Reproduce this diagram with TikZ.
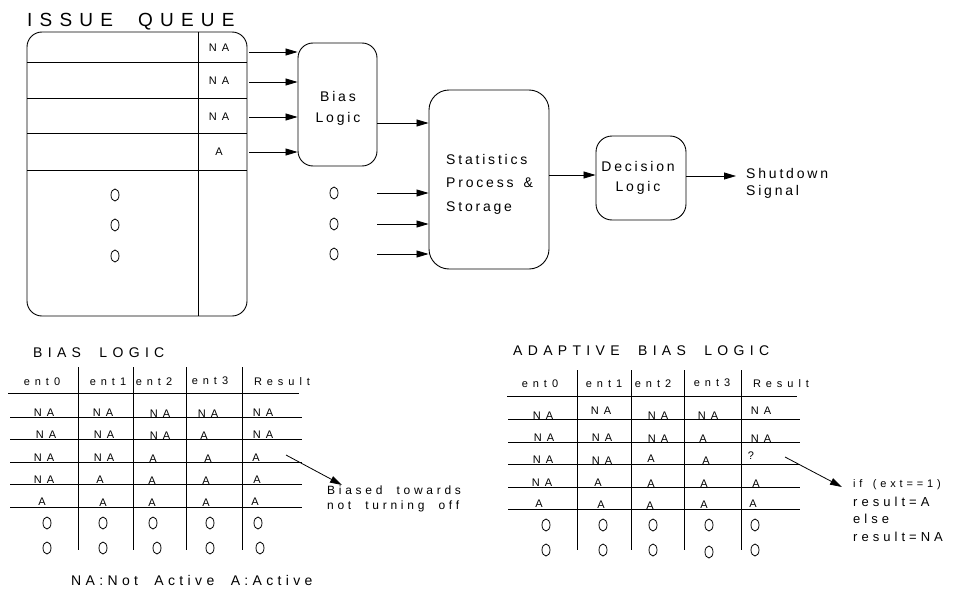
\documentclass[tikz,border=0pt]{standalone}
\usepackage{fontspec}
\setmainfont{Liberation Sans}
\newfontfamily\fA[LetterSpace=20,WordSpace=1.5]{Liberation Sans}
\newfontfamily\fB[LetterSpace=38,WordSpace=2.5]{Liberation Sans}
\newfontfamily\fC[LetterSpace=38,WordSpace=2]{Liberation Sans}
\newfontfamily\fD[LetterSpace=45]{Liberation Sans}
\newfontfamily\fE[LetterSpace=31,WordSpace=2]{Liberation Sans}
\newfontfamily\fF[LetterSpace=35,WordSpace=1.5]{Liberation Sans}
\usetikzlibrary{arrows.meta,shapes.geometric}
\tikzset{
  arr/.style={draw, line width=0.8pt, -{Triangle[length=12pt,width=7pt]}},
  box/.style={draw, line width=0.9pt, rounded corners=#1, inner sep=0pt},
  tl/.style={line width=0.8pt},
  ttl/.style={inner sep=0pt, anchor=base west, font=\fontsize{14}{16}\selectfont\fC},
  cell/.style={inner sep=0pt, anchor=base, font=\fontsize{11}{12}\selectfont\fD},
  qt/.style={inner sep=0pt, font=\fontsize{11}{12}\selectfont\fD},
  btxt/.style={inner sep=0pt, font=\fontsize{14}{#1}\selectfont\fA},
  oo/.style={ellipse, draw, line width=0.8pt, minimum width=8pt, minimum height=12pt, inner sep=0pt},
}
\begin{document}
\begin{tikzpicture}[x=1pt,y=-1pt]
\useasboundingbox (0,0) rectangle (963,602);
% ---------- top diagram ----------
\node[inner sep=0pt, anchor=base west, font=\fontsize{19}{22}\selectfont\fB] (tq) at (27,27) {ISSUE QUEUE};
\node[box=15, minimum width=220pt, minimum height=284pt] (queue) at (137,174) {};
\draw[tl] (198,32) -- (198,316);
\foreach \yy in {62,98,133,170} \draw[tl] (27,\yy) -- (247,\yy);
\node[qt] (q1) at (219,48) {NA};
\node[qt] (q2) at (219,81) {NA};
\node[qt] (q3) at (219,117) {NA};
\node[qt] (q4) at (219,152) {A};
\node[oo] (qo1) at (115,195) {};
\node[oo] (qo2) at (115,225) {};
\node[oo] (qo3) at (115,256) {};

\node[box=15, minimum width=79pt, minimum height=123pt] (bias) at (337.5,104.5) {};
\node[btxt=21, align=center] (biast) at (338,108) {Bias\\Logic};

\draw[arr, shorten <=2pt] (queue.east |- 0,52) -- (bias.west |- 0,52);
\draw[arr, shorten <=2pt] (queue.east |- 0,82) -- (bias.west |- 0,82);
\draw[arr, shorten <=2pt] (queue.east |- 0,117) -- (bias.west |- 0,117);
\draw[arr, shorten <=2pt] (queue.east |- 0,152) -- (bias.west |- 0,152);

\node[box=20, minimum width=120pt, minimum height=179pt] (stats) at (489,179.5) {};
\node[btxt=23.5, align=left, anchor=west] (statst) at (446,184) {Statistics\\Process \&\\Storage};
\draw[arr] (bias.east |- 0,123) -- (stats.west |- 0,123);

\node[oo] (so1) at (334,193) {};
\node[oo] (so2) at (334,224) {};
\node[oo] (so3) at (334,254) {};
\coordinate (s1) at (377,193);
\coordinate (s2) at (377,224);
\coordinate (s3) at (377,254);
\draw[arr] (s1) -- (stats.west |- s1);
\draw[arr] (s2) -- (stats.west |- s2);
\draw[arr] (s3) -- (stats.west |- s3);

\node[box=16, minimum width=90pt, minimum height=84pt] (dec) at (641,178) {};
\node[btxt=20, align=center] (dect) at (638,178) {Decision\\Logic};
\draw[arr] (stats.east |- 0,175) -- (dec.west |- 0,175);
\coordinate (sdend) at (736,176);
\draw[arr] (dec.east |- sdend) -- (sdend);
\node[btxt=17, align=left, anchor=west] (sd) at (746,183) {Shutdown\\Signal};

% ---------- bias logic table ----------
\node[ttl] (blt) at (33,357) {BIAS LOGIC};
\foreach \xx in {78,133,186,242} \draw[tl] (\xx,367) -- (\xx,550);
\draw[tl] (8,393) -- (299,393);
\foreach \yy in {417,439,462,484,507} \draw[tl] (10,\yy) -- (302,\yy);
\node[cell] (lh0) at (42,385) {ent0};
\node[cell] (lh1) at (108,385) {ent1};
\node[cell] (lh2) at (154,385) {ent2};
\node[cell] (lh3) at (210,384) {ent3};
\node[cell] (lh4) at (282,385) {Result};
% rows
\node[cell] (l11) at (44,416.5) {NA};
\node[cell] (l12) at (103,416.5) {NA};
\node[cell] (l13) at (160,417) {NA};
\node[cell] (l14) at (208,417) {NA};
\node[cell] (l15) at (263,416.5) {NA};
\node[cell] (l21) at (46,438.5) {NA};
\node[cell] (l22) at (104,438.5) {NA};
\node[cell] (l23) at (160,439) {NA};
\node[cell] (l24) at (204,439) {A};
\node[cell] (l25) at (263,438.5) {NA};
\node[cell] (l31) at (44,461.5) {NA};
\node[cell] (l32) at (104,461.5) {NA};
\node[cell] (l33) at (153,462) {A};
\node[cell] (l34) at (208,462) {A};
\node[cell] (l35) at (256,461.5) {A};
\node[cell] (l41) at (44,483.5) {NA};
\node[cell] (l42) at (100,483.5) {A};
\node[cell] (l43) at (152,484) {A};
\node[cell] (l44) at (206,484) {A};
\node[cell] (l45) at (257,483.5) {A};
\node[cell] (l51) at (42,505.5) {A};
\node[cell] (l52) at (103,506) {A};
\node[cell] (l53) at (152,506.5) {A};
\node[cell] (l54) at (206,506) {A};
\node[cell] (l55) at (255,505) {A};
\node[oo] (lo11) at (47,523) {};
\node[oo] (lo12) at (103,523) {};
\node[oo] (lo13) at (153,523) {};
\node[oo] (lo14) at (210,523) {};
\node[oo] (lo15) at (258,523) {};
\node[oo] (lo21) at (47,548) {};
\node[oo] (lo22) at (103,548) {};
\node[oo] (lo23) at (157,548) {};
\node[oo] (lo24) at (210,548) {};
\node[oo] (lo25) at (260,548) {};
\coordinate (ba) at (286,455);
\coordinate (bb) at (342,485);
\draw[arr] (ba) -- (bb);
\node[inner sep=0pt, anchor=west, align=left, font=\fontsize{12}{15}\selectfont\fE] (biased) at (327,499) {Biased towards\\not turning off};
\node[inner sep=0pt, anchor=base west, font=\fontsize{14}{16}\selectfont\fE] (legend) at (71,585) {NA:Not Active A:Active};

% ---------- adaptive bias logic table ----------
\node[ttl] (abt) at (513,355) {ADAPTIVE BIAS LOGIC};
\foreach \xx in {577,631,684,741} \draw[tl] (\xx,370) -- (\xx,550);
\draw[tl] (507,396) -- (797,396);
\foreach \yy in {419,442,464,487,509} \draw[tl] (508,\yy) -- (800,\yy);
\node[cell] (rh0) at (540,387) {ent0};
\node[cell] (rh1) at (604,387) {ent1};
\node[cell] (rh2) at (653,387) {ent2};
\node[cell] (rh3) at (712,386) {ent3};
\node[cell] (rh4) at (781,387) {Result};
\node[cell] (r11) at (543,419) {NA};
\node[cell] (r12) at (601,414.5) {NA};
\node[cell] (r13) at (658,419) {NA};
\node[cell] (r14) at (708,419) {NA};
\node[cell] (r15) at (761,414.5) {NA};
\node[cell] (r21) at (544,441.5) {NA};
\node[cell] (r22) at (602,441.5) {NA};
\node[cell] (r23) at (658,442) {NA};
\node[cell] (r24) at (703,442) {A};
\node[cell] (r25) at (761,442) {NA};
\node[cell] (r31) at (543,463.5) {NA};
\node[cell] (r32) at (602,464) {NA};
\node[cell] (r33) at (651,462) {A};
\node[cell] (r34) at (706,464) {A};
\node[cell] (r35) at (751,459) {?};
\node[cell] (r41) at (542,486.5) {NA};
\node[cell] (r42) at (598,486) {A};
\node[cell] (r43) at (651,487) {A};
\node[cell] (r44) at (704,487) {A};
\node[cell] (r45) at (756,487) {A};
\node[cell] (r51) at (539,507.5) {A};
\node[cell] (r52) at (601,508.5) {A};
\node[cell] (r53) at (650,509) {A};
\node[cell] (r54) at (704,508.5) {A};
\node[cell] (r55) at (753,507) {A};
\node[oo] (ro11) at (546,525) {};
\node[oo] (ro12) at (603,525) {};
\node[oo] (ro13) at (653,525) {};
\node[oo] (ro14) at (709,525) {};
\node[oo] (ro15) at (755,525) {};
\node[oo] (ro21) at (546,550) {};
\node[oo] (ro22) at (603,550) {};
\node[oo] (ro23) at (653,550) {};
\node[oo] (ro24) at (709,552) {};
\node[oo] (ro25) at (755,550) {};
\coordinate (aa) at (785,457);
\coordinate (ab) at (842,487);
\draw[arr] (aa) -- (ab);
\node[inner sep=0pt, anchor=base west, font=\fontsize{11}{12}\selectfont\fF] (if1) at (853,487) {if (ext==1)};
\node[inner sep=0pt, anchor=base west, font=\fontsize{13}{14}\selectfont\fE] (if2) at (853,506) {result=A};
\node[inner sep=0pt, anchor=base west, font=\fontsize{13}{14}\selectfont\fE] (if3) at (853,523) {else};
\node[inner sep=0pt, anchor=base west, font=\fontsize{13}{14}\selectfont\fE] (if4) at (853,541) {result=NA};
\end{tikzpicture}
\end{document}
